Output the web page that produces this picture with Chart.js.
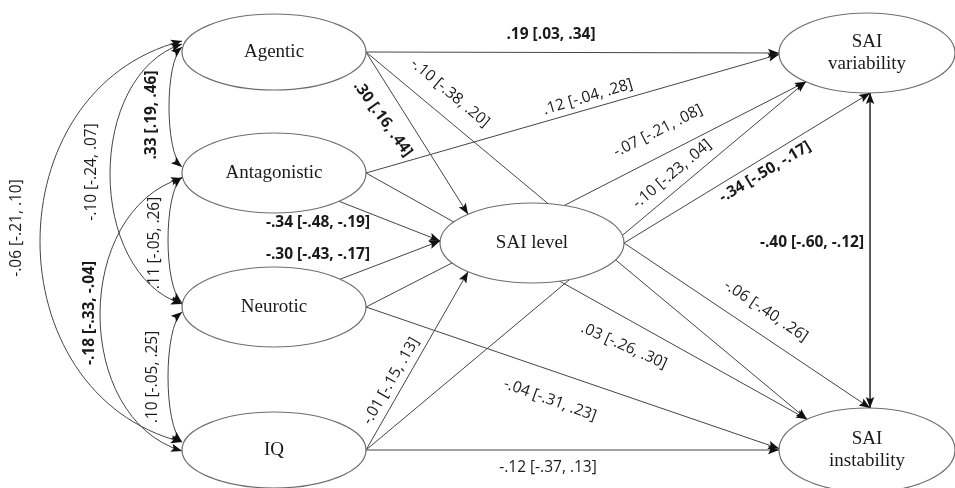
<!DOCTYPE html>
<html>
<head>
<meta charset="utf-8">
<script src="https://cdn.jsdelivr.net/npm/chart.js@4.4.1/dist/chart.umd.min.js"></script>
<style>
  html, body { margin: 0; padding: 0; background: #ffffff; }
  #wrap { width: 955px; height: 488px; position: relative; }
</style>
</head>
<body>
<div id="wrap"><canvas id="c" width="955" height="488"></canvas></div>
<script>
// ---------------- DATA ----------------
const nodeNames = ['Agentic', 'Antagonistic', 'Neurotic', 'IQ', 'SAI level', 'SAI\nvariability', 'SAI\ninstability'];

// directed paths (index into nodeNames)
const pathFrom = [0, 0, 0, 1, 1, 1, 2, 2, 2, 3, 3, 3, 4, 4];
const pathTo   = [5, 4, 6, 5, 4, 6, 5, 4, 6, 5, 4, 6, 5, 6];
const pathEst  = [0.19, 0.30, -0.10, 0.12, -0.34, 0.03, -0.07, -0.30, -0.04, -0.10, -0.01, -0.12, -0.34, -0.06];
const pathLo   = [0.03, 0.16, -0.38, -0.04, -0.48, -0.26, -0.21, -0.43, -0.31, -0.23, -0.15, -0.37, -0.50, -0.40];
const pathHi   = [0.34, 0.44, 0.20, 0.28, -0.19, 0.30, 0.08, -0.17, 0.23, 0.04, 0.13, 0.13, -0.17, 0.26];

// correlations (double-headed)
const corrA   = [0, 0, 0, 1, 1, 2, 5];
const corrB   = [1, 2, 3, 2, 3, 3, 6];
const corrEst = [0.33, -0.10, -0.06, 0.11, -0.18, 0.10, -0.40];
const corrLo  = [0.19, -0.24, -0.21, -0.05, -0.33, -0.05, -0.60];
const corrHi  = [0.46, 0.07, 0.10, 0.26, -0.04, 0.25, -0.12];

// ---------------- LAYOUT (diagram geometry, in axis units) ----------------
const nodeBox = [
  {cx: 274, cy: 52,  rx: 92, ry: 38},
  {cx: 274, cy: 173, rx: 92, ry: 40},
  {cx: 274, cy: 307, rx: 92, ry: 40},
  {cx: 274, cy: 450, rx: 92, ry: 38},
  {cx: 532, cy: 243, rx: 92, ry: 40},
  {cx: 867, cy: 53,  rx: 88, ry: 40},
  {cx: 867, cy: 450, rx: 88, ry: 42}
];
// anchor angle (parametric, degrees) on source / target ellipse
const pathFromAng = [0, 0, 0, 0, 45, 0, 0, -44, 0, 0, 0, 0, 0, 0];
const pathToAng   = [180, -134, -133, 178, 183, -133, 134, 183, 182, 134, 134, 180, 88, -88];
// label centre + rotation
const pathLab = [
  [551, 35, 0], [383, 119, 54], [450, 93, 40], [588, 97, -16.5], [318, 223, 0],
  [624, 346, 24], [658, 131, -27], [318, 255, 0], [550, 400, 20], [672, 174, -40],
  [391, 381, -60], [548, 468, 0], [765, 172, -31], [766, 311, 34]
];
// correlation curves: anchor y offsets and bulge apex x
const corrCurve = [
  {a: -5, b: -6, apex: 169},
  {a: -8, b: -3, apex: 110},
  {a: -11, b: -8, apex: 40},
  {a: 4, b: -4, apex: 168},
  {a: 5, b: 1, apex: 100},
  {a: 5, b: -8, apex: 168},
  null
];
const corrLab = [
  [152, 115, -90], [92, 172, -90], [17, 228, -90], [155, 243, -90],
  [90, 313, -90], [153, 377, -90], [812, 243, 0]
];

// ---------------- helpers ----------------
function fmt(v) {
  const s = v.toFixed(2);
  return s.replace('0.', '.');
}
function label(e, lo, hi) { return fmt(e) + ' [' + fmt(lo) + ', ' + fmt(hi) + ']'; }
function isSig(lo, hi) { return (lo > 0 && hi > 0) || (lo < 0 && hi < 0); }
function anchor(i, deg) {
  const n = nodeBox[i], t = deg * Math.PI / 180;
  return {x: n.cx + n.rx * Math.cos(t), y: n.cy + n.ry * Math.sin(t)};
}

const LINE = '#444444';
const datasets = [];
pathFrom.forEach((f, k) => {
  datasets.push({
    label: nodeNames[f] + ' -> ' + nodeNames[pathTo[k]],
    data: [anchor(f, pathFromAng[k]), anchor(pathTo[k], pathToAng[k])],
    showLine: true, borderColor: LINE, borderWidth: 1, pointRadius: 0, fill: false
  });
});
// SAI variability <-> SAI instability straight correlation
datasets.push({
  label: 'corr var-inst',
  data: [anchor(5, 88), anchor(6, -88)],
  showLine: true, borderColor: LINE, borderWidth: 1, pointRadius: 0, fill: false
});

function arrowHead(ctx, tip, from) {
  const ang = Math.atan2(tip.y - from.y, tip.x - from.x);
  const L = 11, W = 4.2;
  ctx.save();
  ctx.translate(tip.x, tip.y);
  ctx.rotate(ang);
  ctx.beginPath();
  ctx.moveTo(0, 0);
  ctx.lineTo(-L, -W);
  ctx.lineTo(-L * 0.8, 0);
  ctx.lineTo(-L, W);
  ctx.closePath();
  ctx.fillStyle = '#111';
  ctx.fill();
  ctx.restore();
}

const diagram = {
  id: 'diagram',
  beforeDatasetsDraw(chart) {
    const ctx = chart.ctx, xs = chart.scales.x, ys = chart.scales.y;
    const P = p => ({x: xs.getPixelForValue(p.x), y: ys.getPixelForValue(p.y)});
    ctx.save();
    ctx.strokeStyle = LINE; ctx.lineWidth = 1;
    chart.$curves = [];
    corrA.forEach((a, k) => {
      const c = corrCurve[k];
      if (!c) return;
      const b = corrB[k];
      const p0 = {x: nodeBox[a].cx - nodeBox[a].rx, y: nodeBox[a].cy + c.a};
      const p3 = {x: nodeBox[b].cx - nodeBox[b].rx, y: nodeBox[b].cy + c.b};
      const cpx = (8 * c.apex - p0.x - p3.x) / 6;
      const span = p3.y - p0.y;
      const p1 = {x: cpx, y: p0.y + span * 0.12};
      const p2 = {x: cpx, y: p3.y - span * 0.12};
      const q0 = P(p0), q1 = P(p1), q2 = P(p2), q3 = P(p3);
      ctx.beginPath();
      ctx.moveTo(q0.x, q0.y);
      ctx.bezierCurveTo(q1.x, q1.y, q2.x, q2.y, q3.x, q3.y);
      ctx.stroke();
      chart.$curves.push([q0, q1, q2, q3]);
    });
    ctx.restore();
  },
  afterDatasetsDraw(chart) {
    const ctx = chart.ctx, xs = chart.scales.x, ys = chart.scales.y;
    const P = p => ({x: xs.getPixelForValue(p.x), y: ys.getPixelForValue(p.y)});
    ctx.save();
    // ellipses
    nodeBox.forEach((n, i) => {
      const c = P({x: n.cx, y: n.cy});
      const rx = Math.abs(xs.getPixelForValue(n.cx + n.rx) - c.x);
      const ry = Math.abs(ys.getPixelForValue(n.cy + n.ry) - c.y);
      ctx.beginPath();
      ctx.ellipse(c.x, c.y, rx, ry, 0, 0, Math.PI * 2);
      ctx.fillStyle = '#ffffff';
      ctx.fill();
      ctx.strokeStyle = '#6e6e6e';
      ctx.lineWidth = 1.2;
      ctx.stroke();
      ctx.fillStyle = '#1a1a1a';
      ctx.font = '19px "Liberation Serif", "Times New Roman", serif';
      ctx.textAlign = 'center';
      ctx.textBaseline = 'middle';
      const lines = nodeNames[i].split('\n');
      const lh = 22;
      lines.forEach((t, j) => {
        ctx.fillText(t, c.x, c.y + (j - (lines.length - 1) / 2) * lh);
      });
    });
    // arrowheads for paths
    chart.data.datasets.forEach((ds, k) => {
      const meta = chart.getDatasetMeta(k);
      const p0 = meta.data[0], p1 = meta.data[1];
      arrowHead(ctx, {x: p1.x, y: p1.y}, {x: p0.x, y: p0.y});
      if (k === chart.data.datasets.length - 1) arrowHead(ctx, {x: p0.x, y: p0.y}, {x: p1.x, y: p1.y});
    });
    // arrowheads for curves
    (chart.$curves || []).forEach(q => {
      arrowHead(ctx, q[0], q[1]);
      arrowHead(ctx, q[3], q[2]);
    });
    // labels
    function drawLab(txt, pos, bold) {
      const c = P({x: pos[0], y: pos[1]});
      ctx.save();
      ctx.translate(c.x, c.y);
      ctx.rotate(pos[2] * Math.PI / 180);
      ctx.font = (bold ? 'bold ' : '') + '15.5px "Open Sans", sans-serif';
      ctx.fillStyle = '#1a1a1a';
      ctx.textAlign = 'center';
      ctx.textBaseline = 'middle';
      ctx.fillText(txt, 0, 0);
      ctx.restore();
    }
    pathEst.forEach((e, k) => drawLab(label(e, pathLo[k], pathHi[k]), pathLab[k], isSig(pathLo[k], pathHi[k])));
    corrEst.forEach((e, k) => drawLab(label(e, corrLo[k], corrHi[k]), corrLab[k], isSig(corrLo[k], corrHi[k])));
    ctx.restore();
  }
};

new Chart(document.getElementById('c'), {
  type: 'scatter',
  data: { datasets },
  options: {
    responsive: false,
    animation: false,
    layout: { padding: 0 },
    plugins: { legend: { display: false }, tooltip: { enabled: false } },
    scales: {
      x: { type: 'linear', min: 0, max: 955, display: false },
      y: { type: 'linear', min: 0, max: 488, reverse: true, display: false }
    },
    elements: { line: { tension: 0 } }
  },
  plugins: [diagram]
});
</script>
</body>
</html>
